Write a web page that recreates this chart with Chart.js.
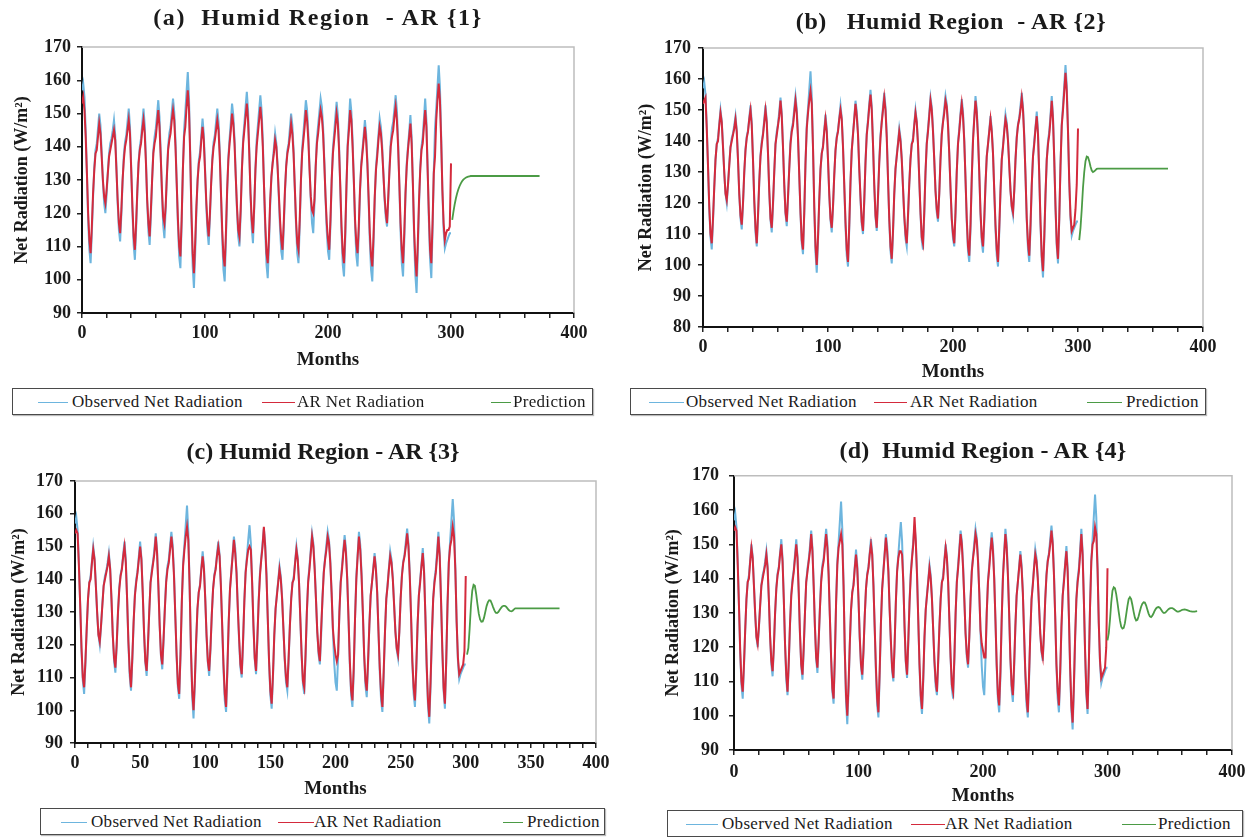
<!DOCTYPE html>
<html>
<head>
<meta charset="utf-8">
<script src="https://cdn.jsdelivr.net/npm/chart.js@4.4.1/dist/chart.umd.min.js"></script>
<style>
  html, body { margin: 0; padding: 0; background: #fff; }
  body { width: 1256px; height: 837px; position: relative; overflow: hidden;
         font-family: "Liberation Serif", "Times New Roman", serif; color: #1a1a1a; }
  canvas { position: absolute; }
  .title { position: absolute; font-weight: bold; font-size: 24px; white-space: pre;
           transform: translate(-50%, -50%); line-height: 1; }
  .legend { position: absolute; border: 1.5px solid #4a4a4a; box-sizing: border-box;
            background: #fff; box-shadow: 1px 1px 1px #bbb; z-index: 2; }
  .legend span { position: absolute; top: 50%; transform: translateY(-52%); font-size: 17px;
                 letter-spacing: 0.3px; white-space: nowrap; line-height: 1; }
  .legend i { position: absolute; top: 50%; height: 0; border-top: 1.5px solid; }
</style>
</head>
<body>
<script>
// monthly observed net radiation, month 0..300
const observed = [
  157,159,155,145,132,118,109,105,114,125,134,139,
  141,145.5,150,146.5,138.5,129.5,123,120,125.5,132.5,138,141,
  142.5,145,148,143.5,134,123,115,111.5,119.5,129.5,137.5,141.5,
  143.5,147.5,151.5,146,134,120.5,110.5,106,115,126.5,135.5,140,
  142.5,147,151.5,146.5,136,123.5,114.5,110.5,119,130,139,143,
  145.5,149.5,154,149,138,126,116.5,112.5,121,131.5,140,144,
  146,150.5,154.5,150.5,142,129,116.5,107,103.5,116.5,133,145,
  150.5,156.5,162.5,154.5,138,118.5,104,97.5,107.5,120.5,130.5,136,
  138.5,143.5,148.5,144,134,122.5,114.5,110.5,118.5,129,137,141.5,
  143.5,147.5,151.5,147.5,138.5,125.5,112.5,103,99.5,111.5,126.5,137,
  142.5,147.5,153,149.5,142.5,131.5,121,113,110,120,133.5,142.5,
  147,152,156.5,151,139,125.5,115.5,111,121,133.5,142,146.5,
  151,155.5,151,142,128,114.5,104.5,100.5,110,122.5,131,135.5,
  139.5,144,141,134.5,125,115.5,108.5,106,115,126,134.5,139,
  141,145.5,150,146.5,139,127.5,116.5,108,105,116,129.5,139.5,
  144,149,154,151,144,134,124,117,114,123,134.5,142.5,
  146.5,150.5,154.5,152,146,136,124.5,114.5,108.5,106,116.5,130,
  139.5,144,149,153.5,149.5,140.5,127.5,114,104.5,101,111.5,128,
  141,147.5,154.5,150.5,142,129.5,116.5,107.5,104,113.5,126,135,
  139,143.5,148,144,136,124,111.5,103,99.5,110.5,124,134,
  138.5,143.5,148.5,146,140.5,132.5,124,118.5,116,124,134,141.5,
  145.5,147.5,151.5,155.5,151,142,128.5,114.5,105,101,111.5,125.5,
  135,140,144.5,149.5,143,129,113,101.5,96,107.5,122.5,134,
  140,143,148.5,154.5,148,134,118,106,100.5,114.5,132.5,145.5,
  151.5,158,164.5,158,143.5,127,115,109.5,111,112,113,114,
  114
];

// fitted AR series, month 0..300
const arFit1 = [
  153,155,151,143,132,120,112,108,116,126,133,138,
  139,143,147,144,137,130,125,123,127,132,137,139,
  141,143,145,142,133,124,117,114,121,130,136,140,
  142,145,148,144,133,122,113,109,117,127,135,139,
  141,145,148,144,135,124,117,113,121,130,138,141,
  143,147,151,146,137,127,119,117,122,131,139,142,
  144,148,151,148,140,129,118,110,107,118,133,143,
  146,152,157,151,137,120,108,102,111,122,130,135,
  137,142,146,142,133,124,117,113,120,129,136,140,
  142,145,148,145,137,126,115,107,104,114,127,136,
  141,145,150,147,141,131,122,115,113,121,133,141,
  145,149,153,148,138,126,118,114,122,133,140,144,
  148,152,148,140,128,117,108,105,113,124,131,135,
  138,142,140,134,126,118,112,109,117,127,134,138,
  140,143,147,144,138,128,118,111,109,118,130,138,
  142,146,151,148,142,133,125,121,120,124,134,141,
  144,148,151,149,144,135,125,117,112,109,118,130,
  138,142,146,150,147,139,128,116,108,105,114,128,
  140,145,151,148,140,130,118,111,108,116,127,134,
  138,142,146,142,135,125,114,107,104,113,125,133,
  137,142,146,144,139,132,125,120,117,125,133,140,
  143,145,149,152,148,140,129,117,109,105,114,126,
  134,139,143,147,141,129,115,106,101,111,124,133,
  139,141,146,151,146,133,120,109,105,117,132,137,
  148,154,159,154,142,127,117,112,114,115,115,116,
  135
];
const arFit2 = [
  152,153,154,144,132,119,110,107,115,125,134,139,
  140,145,149,146,138,130,123,121,126,132,138,140,
  142,144,147,143,134,123,116,113,120,130,137,141,
  143,147,150,145,134,121,112,107,116,127,135,139,
  142,146,150,146,136,124,115,112,120,130,139,142,
  145,148,153,148,138,126,117,114,122,131,139,143,
  145,149,153,149,141,129,117,108,105,117,133,144,
  149,153,156,152,138,119,106,100,109,121,131,136,
  138,143,147,143,134,123,115,112,119,129,137,141,
  143,147,150,147,138,126,114,105,101,113,127,137,
  142,147,152,148,142,131,122,114,111,121,133,142,
  146,151,155,150,139,126,116,112,122,133,141,146,
  150,154,150,141,128,115,106,102,111,123,131,135,
  139,143,140,134,125,116,110,107,116,126,134,139,
  140,145,149,146,139,128,117,109,107,117,130,139,
  143,148,153,150,143,134,124,118,115,123,134,142,
  146,149,153,151,145,136,125,115,110,107,117,130,
  139,143,148,152,148,140,128,115,106,103,113,128,
  140,147,153,149,141,130,117,109,106,115,126,135,
  139,143,147,143,136,124,113,105,101,112,124,134,
  138,143,147,145,140,132,124,119,117,124,134,141,
  145,147,150,154,150,141,129,115,107,103,113,126,
  135,139,144,148,142,129,114,103,98,109,123,134,
  139,142,147,153,147,134,119,107,102,115,132,145,
  150,156,162,156,143,127,116,111,112,113,118,126,
  144
];
const arFit3 = [
  154,155,154,144,132,119,110,107,115,125,134,139,
  140,145,149,146,138,130,123,121,126,132,138,140,
  142,144,147,143,134,123,116,113,120,130,137,141,
  143,147,150,145,134,121,112,107,116,127,135,139,
  142,146,150,146,136,124,115,112,120,130,139,142,
  145,148,153,148,138,126,117,114,122,131,139,143,
  145,149,153,149,141,129,117,108,105,117,133,144,
  149,153,156,152,138,119,106,100,109,121,131,136,
  138,143,147,143,134,123,115,112,119,129,137,141,
  143,147,150,147,138,126,114,105,101,113,127,137,
  142,147,152,148,142,131,122,114,111,121,133,142,
  146,149,150,149,139,126,116,112,122,133,141,146,
  150,156,150,141,128,115,106,102,111,123,131,135,
  139,143,140,134,125,116,110,107,116,126,134,139,
  140,145,149,146,139,128,117,109,107,117,130,139,
  143,148,153,150,143,134,124,118,115,125,134,142,
  146,149,153,151,145,136,125,120,117,115,117,130,
  139,143,148,152,148,140,128,115,106,103,113,128,
  140,147,153,149,141,130,117,109,106,115,126,135,
  139,143,147,143,136,124,113,105,101,112,124,134,
  138,143,147,145,140,132,124,119,117,124,134,141,
  145,147,150,154,150,141,129,115,107,103,113,126,
  135,139,144,148,142,129,114,103,98,109,123,134,
  139,142,147,153,147,134,119,107,102,115,132,145,
  150,152,156,153,143,127,116,111,112,113,114,118,
  141
];
const arFit4 = [
  154,155,154,144,132,119,110,107,115,125,134,139,
  140,145,149,146,138,130,123,121,126,132,138,140,
  142,144,147,143,134,123,116,113,120,130,137,141,
  143,147,150,145,134,121,112,107,116,127,135,139,
  142,146,150,146,136,124,115,112,120,130,139,142,
  145,148,153,148,138,126,117,114,122,131,139,143,
  145,149,153,149,141,129,117,108,105,117,133,144,
  149,151,153,150,138,119,106,100,109,121,131,136,
  138,143,147,143,134,123,115,112,119,129,137,141,
  143,147,150,147,138,126,114,105,101,113,127,137,
  142,147,152,148,142,131,122,114,111,121,133,142,
  146,148,148,147,139,126,116,112,122,133,141,146,
  150,158,151,141,128,115,106,102,111,123,131,135,
  139,143,140,134,125,116,110,107,116,126,134,139,
  140,145,149,146,139,128,117,109,107,117,130,139,
  143,148,153,150,143,134,124,118,115,123,134,142,
  146,149,153,151,145,136,125,121,119,117,117,130,
  139,143,148,152,148,140,128,115,106,103,113,128,
  140,147,153,149,141,130,117,109,106,115,126,135,
  139,143,147,143,136,124,113,105,101,112,124,134,
  138,143,147,145,140,132,124,119,117,124,134,141,
  145,147,150,154,150,141,129,115,107,103,113,126,
  135,139,144,148,142,129,114,103,98,109,123,134,
  139,142,147,153,147,134,119,107,102,115,132,145,
  150,151,155,153,143,127,116,111,112,113,114,120,
  143
];

// forecasts beyond the observed record
const predMonths1 = [301,302,303,304,305,306,307,308,309,310,311,312,313,314,315,316,317,318,319,320,340,372];
const pred1 = [118,120.5,122.7,124.5,126,127.2,128.2,129,129.6,130.1,130.4,130.7,130.9,131,131.1,131.2,131.2,131.2,131.2,131.2,131.2,131.2];
const predMonths2 = [301,302,303,304,305,306,307,308,309,310,311,312,313,314,315,316,340,372];
const pred2 = [108,112,118,125,130,133.5,135,134.8,133.5,131.8,130.5,130,130.2,130.6,131,131.1,131.1,131.1];
const predMonths3 = [301,302,303,304,305,306,307,308,309,310,311,312,313,314,315,316,317,318,319,320,
  321,322,323,324,325,326,327,328,329,330,331,332,333,334,335,336,337,338,345,355,372];
const pred3 = [117,119,125,132,136.5,138.3,138,135.5,132.3,129.5,127.7,127,127.1,128.2,130,131.8,133,133.6,133.5,132.6,
  131.5,130.5,129.8,129.7,130,130.6,131.2,131.7,131.9,131.9,131.6,131.1,130.6,130.3,130.2,130.4,130.8,131.1,131.1,131.1,131.1];
const predMonths4 = [300,301,302,303,304,305,306,307,308,309,310,311,312,313,314,315,316,317,318,319,
  320,321,322,323,324,325,326,327,328,329,330,331,332,333,334,335,336,337,338,339,
  340,341,342,343,344,345,346,347,348,349,350,351,352,353,354,355,356,357,358,359,
  360,362,364,366,368,370,372];
const pred4 = [122,124,128,133,136.5,137.5,137.2,135.5,133,130.3,127.8,126,125.4,125.6,127,129.5,132,134,134.6,134,
  132.3,130.3,128.6,127.8,128,129,130.5,131.8,132.7,133.1,133,132.2,131,129.8,129,128.8,129.2,129.9,130.7,131.3,
  131.6,131.7,131.5,131,130.4,130,130,130.3,130.7,131.1,131.3,131.4,131.4,131.2,130.9,130.6,130.4,130.4,130.5,130.7,
  130.9,131,130.8,130.5,130.4,130.4,130.5];

const seriesNames = ['Observed Net Radiation', 'AR Net Radiation', 'Prediction'];
const C_OBS = '#6db5de', C_AR = '#d42a3c', C_PRED = '#4b9b45';
const INK = '#1a1a1a';
const SERIF = '"Liberation Serif", "Times New Roman", serif';

const panels = [
  { title: '(a)  Humid Region  - AR {1}', titleX: 318, titleY: 17, titleSpacing: 1.6, left: 0, plot: [82, 574, 47, 313],
    yMin: 90, xStep: 20, xEvery: 100, yTitleX: 22, yGap: 11, xLabelY: 333, monthsY: 360,
    ar: arFit1, px: predMonths1, py: pred1,
    legend: { x: 12, y: 388, w: 581, h: 27, lines: [25, 249, 478], lens: [30, 33, 20], texts: [59, 284, 500] } },
  { title: '(b)   Humid Region  - AR {2}', titleX: 951, titleY: 21, titleSpacing: 0.6, left: 620, plot: [703, 1203, 48, 327],
    yMin: 80, xStep: 20, xEvery: 100, yTitleX: 646, yGap: 12, xLabelY: 347, monthsY: 372,
    ar: arFit2, px: predMonths2, py: pred2,
    legend: { x: 630, y: 388, w: 576, h: 27, lines: [18, 243, 456], lens: [35, 33, 35], texts: [55, 279, 495] } },
  { title: '(c) Humid Region - AR {3}', titleX: 323, titleY: 451, titleSpacing: 0, left: 0, plot: [75, 596, 481, 743],
    yMin: 90, xStep: 10, xEvery: 50, yTitleX: 19, yGap: 12, xLabelY: 763, monthsY: 789,
    ar: arFit3, px: predMonths3, py: pred3,
    legend: { x: 40, y: 808, w: 565, h: 27, lines: [20, 237, 462], lens: [26, 36, 20], texts: [50, 273, 486] } },
  { title: '(d)  Humid Region - AR {4}', titleX: 983, titleY: 450, titleSpacing: 0.2, left: 620, plot: [734, 1232, 475, 750],
    yMin: 90, xStep: 20, xEvery: 100, yTitleX: 673, yGap: 15, xLabelY: 772, monthsY: 796,
    ar: arFit4, px: predMonths4, py: pred4,
    legend: { x: 667, y: 810, w: 576, h: 27, lines: [18, 243, 454], lens: [32, 34, 34], texts: [54, 277, 490] } }
];

// light grey frame on top and right of the plot area
const frame = {
  id: 'frame',
  beforeDatasetsDraw(chart) {
    const { ctx, chartArea: a } = chart;
    ctx.save();
    ctx.strokeStyle = '#bdbdbd';
    ctx.lineWidth = 1.5;
    ctx.beginPath();
    ctx.moveTo(a.left, a.top);
    ctx.lineTo(a.right, a.top);
    ctx.lineTo(a.right, a.bottom);
    ctx.stroke();
    ctx.restore();
  }
};

const tickFont = { family: SERIF, weight: 'bold', size: 18 };
const axisLine = { display: true, color: '#111', width: 2 };
const tickMarks = { display: true, drawOnChartArea: false, drawTicks: true, tickLength: 5, color: '#222', lineWidth: 1.5 };

panels.forEach(p => {
  const [L, R, T, B] = p.plot;
  const top = T - 20;
  const W = Math.min(R + 20, 1256) - p.left;
  const H = Math.round(p.monthsY + 11.4 - top);
  const yW = L - p.left;
  const xH = H - (B - top);

  const cv = document.createElement('canvas');
  cv.width = W; cv.height = H;
  cv.style.left = p.left + 'px'; cv.style.top = top + 'px';
  cv.style.width = W + 'px'; cv.style.height = H + 'px';
  document.body.appendChild(cv);

  new Chart(cv, {
    type: 'line',
    data: {
      datasets: [
        { label: seriesNames[0], data: observed.map((v, i) => ({ x: i, y: v })),
          borderColor: C_OBS, borderWidth: 2, order: 2 },
        { label: seriesNames[1], data: p.ar.map((v, i) => ({ x: i, y: v })),
          borderColor: C_AR, borderWidth: 2, order: 1 },
        { label: seriesNames[2], data: p.px.map((m, i) => ({ x: m, y: p.py[i] })),
          borderColor: C_PRED, borderWidth: 1.8, order: 0 }
      ]
    },
    options: {
      responsive: false,
      animation: false,
      devicePixelRatio: 1,
      layout: { padding: { left: 0, top: 20, right: R + 20 > 1256 ? 1256 - R : 20, bottom: 0 } },
      elements: { point: { radius: 0 }, line: { tension: 0, fill: false } },
      plugins: { legend: { display: false }, tooltip: { enabled: false } },
      scales: {
        x: {
          type: 'linear', min: 0, max: 400,
          afterFit: s => { s.height = xH; },
          ticks: { stepSize: p.xStep, autoSkip: false, maxRotation: 0, font: tickFont, color: INK,
                   padding: p.xLabelY - B - 5 - 10.8,
                   callback: v => (v % p.xEvery === 0 ? v : '') },
          grid: tickMarks, border: axisLine,
          title: { display: true, text: 'Months', color: INK,
                   font: { family: SERIF, weight: 'bold', size: 19 }, padding: { top: 0, bottom: 0 } }
        },
        y: {
          min: p.yMin, max: 170,
          afterFit: s => { s.width = yW; },
          ticks: { stepSize: 10, font: tickFont, color: INK, padding: p.yGap - 5 },
          grid: tickMarks, border: axisLine,
          title: { display: true, text: 'Net Radiation (W/m²)', color: INK,
                   font: { family: SERIF, weight: 'bold', size: 18 },
                   padding: { top: p.yTitleX - p.left - 10.8, bottom: 0 } }
        }
      }
    },
    plugins: [frame]
  });

  const t = document.createElement('div');
  t.className = 'title';
  t.textContent = p.title;
  t.style.left = p.titleX + 'px';
  t.style.top = p.titleY + 'px';
  t.style.letterSpacing = p.titleSpacing + 'px';
  document.body.appendChild(t);

  const lg = p.legend;
  const box = document.createElement('div');
  box.className = 'legend';
  box.style.left = lg.x + 'px'; box.style.top = lg.y + 'px';
  box.style.width = lg.w + 'px'; box.style.height = lg.h + 'px';
  [C_OBS, C_AR, C_PRED].forEach((c, k) => {
    const ln = document.createElement('i');
    ln.style.left = lg.lines[k] + 'px';
    ln.style.width = lg.lens[k] + 'px';
    ln.style.borderColor = c;
    box.appendChild(ln);
    const tx = document.createElement('span');
    tx.textContent = seriesNames[k];
    tx.style.left = lg.texts[k] + 'px';
    box.appendChild(tx);
  });
  document.body.appendChild(box);
});
</script>
</body>
</html>
